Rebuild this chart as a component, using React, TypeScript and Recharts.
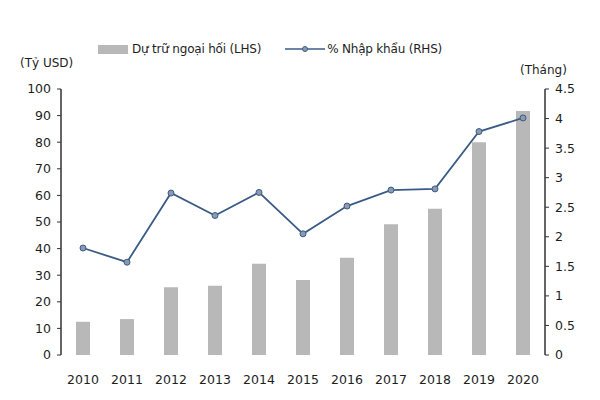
import { ComposedChart, Bar, Line, XAxis, YAxis } from 'recharts';

const years = ['2010', '2011', '2012', '2013', '2014', '2015', '2016', '2017', '2018', '2019', '2020'];
const reserves = [12.5, 13.5, 25.5, 26, 34.3, 28.2, 36.6, 49.2, 55, 80, 91.7];
const importMonths = [1.81, 1.57, 2.74, 2.36, 2.75, 2.05, 2.52, 2.79, 2.81, 3.78, 4.01];
const leftTicks = [0, 10, 20, 30, 40, 50, 60, 70, 80, 90, 100];
const rightTicks = [0, 0.5, 1, 1.5, 2, 2.5, 3, 3.5, 4, 4.5];
const dividerTicks = [-0.5, 0.5, 1.5, 2.5, 3.5, 4.5, 5.5, 6.5, 7.5, 8.5, 9.5, 10.5];

const data = years.map((year, i) => ({
  year,
  idx: i,
  reserves: reserves[i],
  imports: importMonths[i],
}));

const FONT = '"DejaVu Sans", sans-serif';
const TEXT = '#1e1e1e';
const LINE = '#3b5b87';
const BAR = '#b8b8b8';

// legend drawn as plain html so it doesn't push the plot down
function ChartLegend() {
  return (
    <div
      style={{
        position: 'absolute',
        left: 98,
        top: 42,
        display: 'flex',
        alignItems: 'center',
        fontFamily: FONT,
        fontSize: 12,
        color: TEXT,
        letterSpacing: -0.2,
      }}
    >
      <span style={{ display: 'inline-block', width: 30, height: 9, background: BAR, marginRight: 4 }} />
      <span>Dự trữ ngoại hối (LHS)</span>
      <svg width={42} height={10} style={{ marginLeft: 24 }}>
        <line x1={0} y1={5} x2={40} y2={5} stroke={LINE} strokeWidth={1.5} />
        <circle cx={20} cy={5} r={2.5} fill="#8a9bb0" stroke={LINE} />
      </svg>
      <span>% Nhập khẩu (RHS)</span>
    </div>
  );
}

export default function App() {
  return (
    <div style={{ position: 'absolute', left: 0, top: 0, width: 600, height: 400, background: '#fff' }}>
      <ComposedChart
        width={600}
        height={400}
        data={data}
        margin={{ top: 89, right: 10, bottom: 15, left: 21 }}
      >
        <XAxis
          xAxisId="div"
          type="number"
          dataKey="idx"
          domain={[-0.5, 10.5]}
          ticks={dividerTicks}
          height={0}
          tick={false}
          tickSize={5}
          tickLine={{ stroke: '#333' }}
          axisLine={{ stroke: '#333', strokeWidth: 1.5 }}
        />
        <XAxis
          xAxisId="cat"
          dataKey="year"
          height={30}
          axisLine={false}
          tickLine={false}
          tickMargin={14}
          tick={{ fontFamily: FONT, fontSize: 12.5, fill: TEXT }}
          interval={0}
        />
        <YAxis
          yAxisId="left"
          width={40}
          domain={[0, 100]}
          ticks={leftTicks}
          interval={0}
          tickSize={4}
          tickMargin={6}
          axisLine={{ stroke: '#333', strokeWidth: 1.5 }}
          tickLine={{ stroke: '#333' }}
          tick={{ fontFamily: FONT, fontSize: 12.5, fill: TEXT }}
        />
        <YAxis
          yAxisId="right"
          orientation="right"
          width={45}
          domain={[0, 4.5]}
          ticks={rightTicks}
          interval={0}
          tickSize={4}
          tickMargin={6}
          axisLine={{ stroke: '#333', strokeWidth: 1.5 }}
          tickLine={{ stroke: '#333' }}
          tick={{ fontFamily: FONT, fontSize: 12.5, fill: TEXT }}
        />
        <Bar
          xAxisId="cat"
          yAxisId="left"
          dataKey="reserves"
          name="Dự trữ ngoại hối (LHS)"
          fill={BAR}
          barSize={14}
          isAnimationActive={false}
        />
        <Line
          xAxisId="cat"
          yAxisId="right"
          dataKey="imports"
          name="% Nhập khẩu (RHS)"
          stroke={LINE}
          strokeWidth={1.8}
          dot={{ r: 3, fill: '#8a9bb0', stroke: LINE, strokeWidth: 1 }}
          isAnimationActive={false}
        />
      </ComposedChart>
      <ChartLegend />
      <div style={{ position: 'absolute', left: 20, top: 56, fontFamily: FONT, fontSize: 12, color: TEXT }}>(Tỷ USD)</div>
      <div style={{ position: 'absolute', left: 520, top: 63, fontFamily: FONT, fontSize: 12, color: TEXT }}>(Tháng)</div>
    </div>
  );
}
